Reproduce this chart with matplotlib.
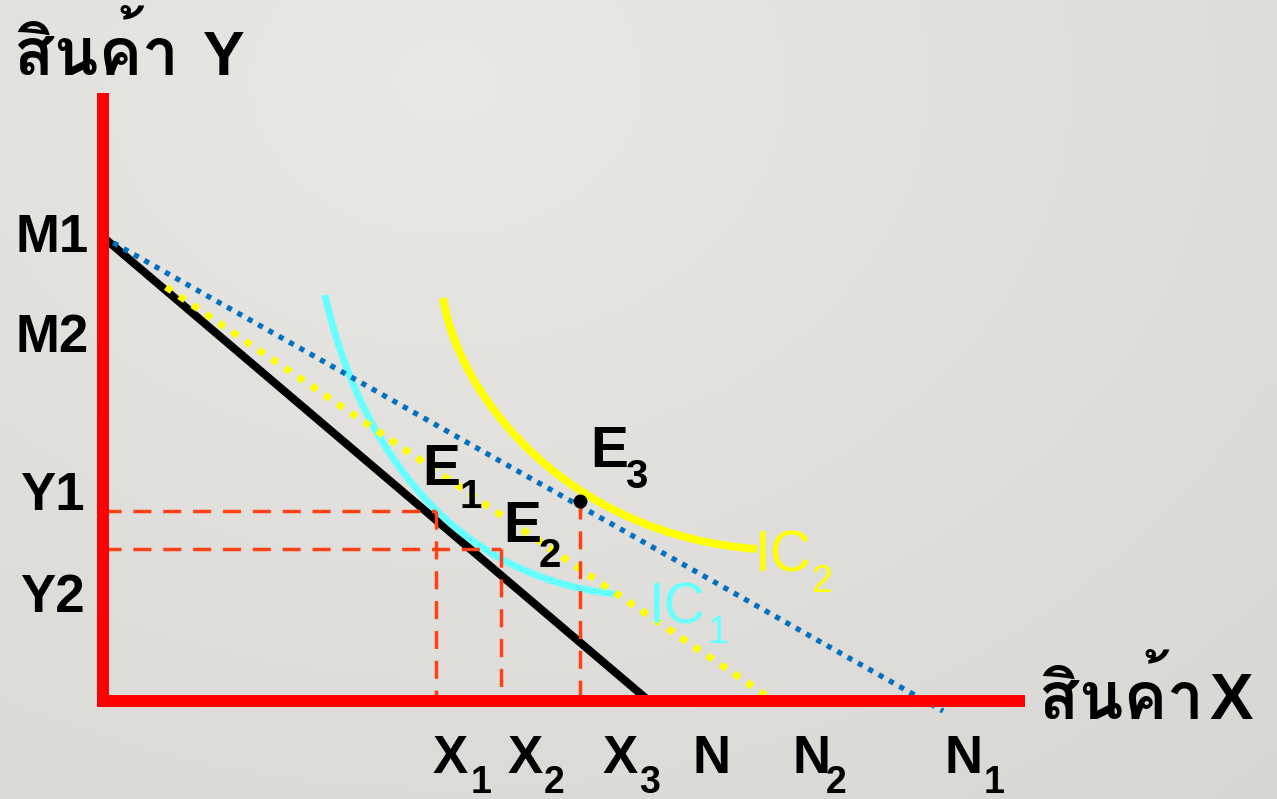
import numpy as np
import matplotlib
matplotlib.use("Agg")
import matplotlib.pyplot as plt
from matplotlib import font_manager as fm
from matplotlib.ft2font import FT2Font
from matplotlib.path import Path
from matplotlib.patches import PathPatch

# budget lines (x = good X, y = good Y)
budget_x = [0.0, 54.6]           # original line M1 -> N
budget_y = [46.4, 0.0]
comp_x = [6.3, 67.1]             # compensated line -> N2
comp_y = [41.4, 0.0]
new_x = [0.0, 84.0]              # new line M1 -> N1
new_y = [46.4, -1.0]

# indifference curves as cubic bezier control points
ic1_x = [22.2, 25.2, 33.7, 51.2]
ic1_y = [40.6, 27.1, 12.6, 10.7]
ic2_x = [34.0, 35.7, 46.7, 65.4]
ic2_y = [40.3, 30.1, 16.6, 15.2]

# equilibrium points E1, E2, E3
eq_x = [33.3, 39.8, 47.7]
eq_y = [19.0, 15.2, 20.0]

RED = "#FF0000"
GUIDE = "#FF4015"
CYAN = "#66FFFF"
YELLOW = "#FFFF00"
BLUE = "#0070C0"


def thai_font(bold=True):
    # pick an installed font that has Thai glyphs, bold if possible
    found = []
    for path in fm.findSystemFonts():
        try:
            if 0x0E2A in FT2Font(path).get_charmap():
                found.append(path)
        except Exception:
            pass
    if not found:
        return fm.FontProperties(family="DejaVu Sans", weight="bold")
    found.sort(key=lambda p: (not ("Bold" in p) == bold, "Italic" in p or "Oblique" in p, len(p)))
    return fm.FontProperties(fname=found[0])


fig = plt.figure(figsize=(12.77, 7.99), dpi=100)
ax = fig.add_axes([0, 0, 1, 1])
ax.set_xlim(-10.3, 117.4)
ax.set_ylim(-9.8, 70.1)
ax.axis("off")

# soft grey backdrop
yy, xx = np.mgrid[0:1:200j, 0:1:320j]
d = np.hypot(xx - 0.35, (yy - 0.1) * 0.8)
shade = 0.915 - 0.07 * d
bg = np.dstack([shade, shade - 0.006, shade - 0.02])
ax.imshow(bg, extent=[-10.3, 117.4, -9.8, 70.1], aspect="auto", zorder=0, origin="upper")

# guide lines from equilibria to the axes
guide = dict(color=GUIDE, lw=2.5, ls=(0, (5.2, 3.4)), zorder=6)
for i in range(2):
    ax.plot([0, eq_x[i]], [eq_y[i], eq_y[i]], **guide)
for i in range(3):
    ax.plot([eq_x[i], eq_x[i]], [eq_y[i], 0], **guide)

ax.plot(budget_x, budget_y, color="black", lw=5.8, solid_capstyle="butt", zorder=2)


def bezier(xs, ys, color, lw):
    verts = list(zip(xs, ys))
    path = Path(verts, [Path.MOVETO, Path.CURVE4, Path.CURVE4, Path.CURVE4])
    ax.add_patch(PathPatch(path, fill=False, edgecolor=color, lw=lw,
                           capstyle="butt", zorder=3))


bezier(ic1_x, ic1_y, CYAN, 5.0)
bezier(ic2_x, ic2_y, YELLOW, 5.6)

ax.plot(comp_x, comp_y, color=YELLOW, lw=5.0, ls=(0, (1, 1.3)),
        dash_capstyle="butt", zorder=4)
ax.plot(new_x, new_y, color=BLUE, lw=3.8, ls=(0, (1, 1.25)),
        dash_capstyle="butt", zorder=4)

# axes
ax.plot([0, 0], [-0.6, 60.8], color=RED, lw=8.6, solid_capstyle="butt", zorder=7)
ax.plot([-0.6, 92.2], [0, 0], color=RED, lw=8.6, solid_capstyle="butt", zorder=7)

ax.plot(eq_x[2], eq_y[2], "o", color="black", ms=9, zorder=8)

latin = dict(family="Liberation Sans", weight="bold", va="baseline", ha="left", zorder=9)
thai = thai_font()

ax.text(-8.9, 62.6, "สินค้า", fontproperties=thai, fontsize=47, va="baseline", zorder=9)
ax.text(10.0, 62.6, "Y", fontsize=45, **latin)
ax.text(93.6, -1.8, "สินค้า", fontproperties=thai, fontsize=47, va="baseline", zorder=9)
ax.text(110.6, -1.8, "X", fontsize=47, **latin)

for s, y in [("M1", 44.9), ("M2", 34.9)]:
    ax.text(-8.8, y, s, fontsize=38, **latin)
for s, y in [("Y1", 19.1), ("Y2", 8.9)]:
    ax.text(-8.3, y, s, fontsize=38, **latin)


def sub_label(x, y, main, sub, sx, sy, size, subsize, color="black", weight="bold"):
    kw = dict(family="Liberation Sans", weight=weight, va="baseline",
              ha="left", color=color, zorder=9)
    ax.text(x, y, main, fontsize=size, **kw)
    if sub:
        ax.text(sx, sy, sub, fontsize=subsize, **kw)


sub_label(33.0, -7.2, "X", "1", 36.8, -9.2, 38, 27)
sub_label(40.5, -7.2, "X", "2", 44.1, -9.2, 38, 27)
sub_label(50.0, -7.2, "X", "3", 53.6, -9.2, 38, 27)
sub_label(58.9, -7.2, "N", None, 0, 0, 38, 27)
sub_label(68.9, -7.2, "N", "2", 72.3, -9.2, 38, 27)
sub_label(84.1, -7.2, "N", "1", 88.1, -9.2, 38, 27)

sub_label(31.9, 21.6, "E", "1", 35.6, 19.3, 41, 29)
sub_label(40.0, 15.9, "E", "2", 43.6, 13.4, 41, 29)
sub_label(48.7, 23.4, "E", "3", 52.2, 21.3, 41, 29)

sub_label(65.2, 12.9, "IC", "2", 70.8, 10.9, 41, 27, color=YELLOW, weight="normal")
sub_label(54.6, 7.8, "IC", "1", 60.4, 5.8, 41, 27, color=CYAN, weight="normal")

fig.savefig("out.png", dpi=100)
